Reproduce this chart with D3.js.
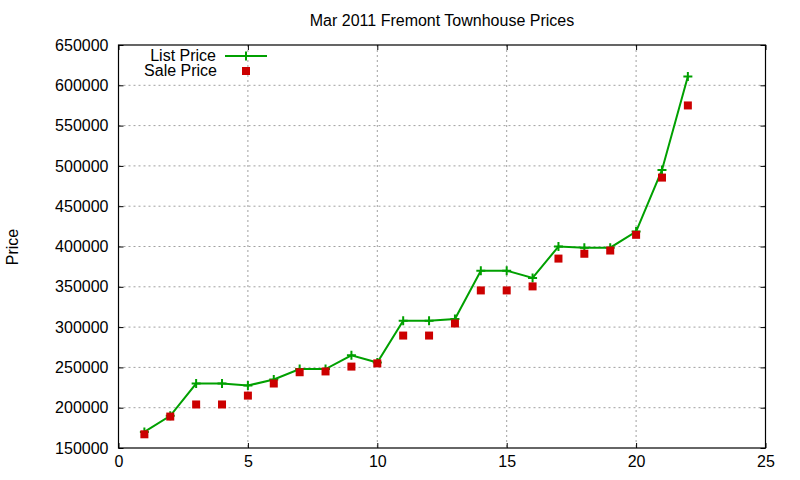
<!DOCTYPE html>
<html>
<head>
<meta charset="utf-8">
<script src="https://cdn.jsdelivr.net/npm/d3@7"></script>
<style>
  body { margin: 0; background: #fff; }
  text { font-family: "Liberation Sans", Arial, sans-serif; fill: #000; }
</style>
</head>
<body>
<div class="canvas"></div>
<script>
// data
const houses = [1, 2, 3, 4, 5, 6, 7, 8, 9, 10, 11, 12, 13, 14, 15, 16, 17, 18, 19, 20, 21, 22]
const listPrice = [170000, 190000, 230000, 230000, 227500, 235000, 248000, 248000, 265000, 256000, 308000, 308000, 310000, 370000, 370000, 361000, 400000, 398500, 398500, 418500, 495000, 611000]
const salePrice = [167000, 189000, 204000, 204000, 215000, 230000, 244000, 245000, 251000, 255000, 289500, 289500, 304500, 345500, 345500, 350500, 385000, 391000, 395000, 414500, 485500, 575000]
const xTicks = [0, 5, 10, 15, 20, 25]
const yTicks = [150000, 200000, 250000, 300000, 350000, 400000, 450000, 500000, 550000, 600000, 650000]

const margin = {top: 45, right: 34.5, bottom: 32, left: 118.5}
const graphWidth = 800 - margin.left - margin.right
const graphHeight = 480 - margin.top - margin.bottom

const svg = d3.select('.canvas')
  .append('svg')
  .attr('width', 800)
  .attr('height', 480)

const graph = svg.append('g')
  .attr('transform', `translate(${margin.left}, ${margin.top})`)

const x = d3.scaleLinear().domain([0, 25]).range([0, graphWidth])
const y = d3.scaleLinear().domain([150000, 650000]).range([graphHeight, 0])

// grid
graph.append('g').selectAll('line.gx')
  .data(xTicks.slice(1, -1))
  .enter().append('line')
  .attr('x1', d => x(d)).attr('x2', d => x(d))
  .attr('y1', 0).attr('y2', graphHeight)
  .attr('stroke', '#a0a0a0').attr('stroke-dasharray', '2,3')
graph.append('g').selectAll('line.gy')
  .data(yTicks.slice(1, -1))
  .enter().append('line')
  .attr('y1', d => y(d)).attr('y2', d => y(d))
  .attr('x1', 0).attr('x2', graphWidth)
  .attr('stroke', '#a0a0a0').attr('stroke-dasharray', '2,3')

// axes (ticks pointing inward, mirrored on top/right)
const styleAxis = g => {
  g.select('.domain').remove()
  g.selectAll('line').attr('stroke', '#000').attr('stroke-width', 1)
  g.selectAll('text').attr('font-size', 16).attr('fill', '#000')
    .style('font-family', '"Liberation Sans", Arial, sans-serif')
}
graph.append('g')
  .attr('transform', `translate(0, ${graphHeight})`)
  .call(d3.axisBottom(x).tickValues(xTicks).tickSizeInner(-5).tickSizeOuter(0).tickPadding(8))
  .call(styleAxis)
graph.append('g')
  .call(d3.axisTop(x).tickValues(xTicks).tickSizeInner(-5).tickSizeOuter(0).tickFormat(''))
  .call(styleAxis)
graph.append('g')
  .call(d3.axisLeft(y).tickValues(yTicks).tickSizeInner(-5).tickSizeOuter(0).tickPadding(10).tickFormat(d => d))
  .call(styleAxis)
graph.append('g')
  .attr('transform', `translate(${graphWidth}, 0)`)
  .call(d3.axisRight(y).tickValues(yTicks).tickSizeInner(-5).tickSizeOuter(0).tickFormat(''))
  .call(styleAxis)

graph.append('rect')
  .attr('width', graphWidth).attr('height', graphHeight)
  .attr('fill', 'none').attr('stroke', '#000').attr('stroke-width', 1.2)

// list price line + crosses
const line = d3.line()
  .x((d, i) => x(houses[i]))
  .y(d => y(d))

graph.append('path')
  .datum(listPrice)
  .attr('d', line)
  .attr('fill', 'none')
  .attr('stroke', '#00a000')
  .attr('stroke-width', 2)

graph.selectAll('path.plus')
  .data(listPrice)
  .enter().append('path')
  .attr('class', 'plus')
  .attr('d', 'M-4.5,0H4.5M0,-4.5V4.5')
  .attr('transform', (d, i) => `translate(${x(houses[i])}, ${y(d)})`)
  .attr('stroke', '#00a000').attr('stroke-width', 2)

// sale price squares
graph.selectAll('rect.sale')
  .data(salePrice)
  .enter().append('rect')
  .attr('class', 'sale')
  .attr('x', (d, i) => x(houses[i]) - 4)
  .attr('y', d => y(d) - 4)
  .attr('width', 8).attr('height', 8)
  .attr('fill', '#cc0000')

// title and label
svg.append('text')
  .attr('x', 442).attr('y', 26)
  .attr('text-anchor', 'middle')
  .attr('font-size', 16)
  .text('Mar 2011 Fremont Townhouse Prices')

svg.append('text')
  .attr('transform', 'rotate(-90)')
  .attr('x', -247).attr('y', 18)
  .attr('text-anchor', 'middle')
  .attr('font-size', 16)
  .text('Price')

// legend
const legend = svg.append('g')
legend.append('text')
  .attr('x', 216).attr('y', 61)
  .attr('text-anchor', 'end').attr('font-size', 16)
  .text('List Price')
legend.append('path')
  .attr('d', 'M225,56H267M246,51.5V60.5')
  .attr('stroke', '#00a000').attr('stroke-width', 2)
legend.append('text')
  .attr('x', 217).attr('y', 76)
  .attr('text-anchor', 'end').attr('font-size', 16)
  .text('Sale Price')
legend.append('rect')
  .attr('x', 242).attr('y', 67).attr('width', 8).attr('height', 8)
  .attr('fill', '#cc0000')
</script>
</body>
</html>
